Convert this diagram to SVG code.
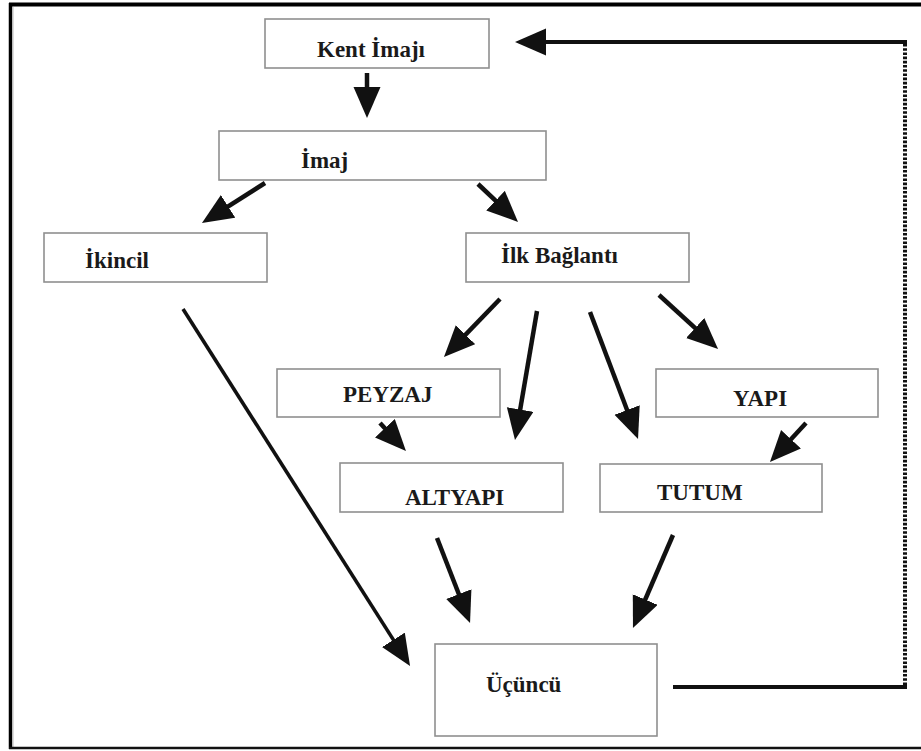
<svg xmlns="http://www.w3.org/2000/svg" width="921" height="751" viewBox="0 0 921 751">
<style>
.box{fill:#fff;stroke:#8f8f8f;stroke-width:1.6}
.lbl{font-family:"Liberation Serif","Times New Roman",serif;font-weight:bold;font-size:23px;fill:#1a1a1a}
.arr{stroke:#111;stroke-width:4.5;fill:none;marker-end:url(#ah)}
.thin{stroke-width:3.6}
.fb{stroke:#111;stroke-width:4;fill:none}
.dot{stroke:#111;stroke-width:4;fill:none;stroke-dasharray:2.6 1.6}
</style>
<defs>
<marker id="ah" markerUnits="userSpaceOnUse" markerWidth="32" markerHeight="28" refX="19" refY="13.5" orient="auto">
<path d="M0,0 L31,13.5 L0,27 z" fill="#111"/>
</marker>
</defs>
<rect width="921" height="751" fill="#fff"/>
<g id="frame">
<line x1="9" y1="4.5" x2="921" y2="4.5" stroke="#000" stroke-width="4"/>
<line x1="10.5" y1="3" x2="10.5" y2="749" stroke="#000" stroke-width="3.5"/>
<line x1="13" y1="7" x2="13" y2="749" stroke="#bbb" stroke-width="1"/>
<line x1="9" y1="748" x2="921" y2="748" stroke="#111" stroke-width="2.5"/>
</g>
<g id="connectors">
<line class="arr" x1="367" y1="73" x2="367" y2="106"/>
<line class="arr" x1="265" y1="183" x2="212.1" y2="216.6"/>
<line class="arr" x1="478" y1="184" x2="509.3" y2="213.7"/>
<line class="arr" x1="500" y1="299" x2="452.3" y2="348.4"/>
<line class="arr" x1="537" y1="311" x2="517" y2="428.2"/>
<line class="arr" x1="590" y1="312" x2="633.8" y2="427.8"/>
<line class="arr" x1="659" y1="295" x2="709.2" y2="340.9"/>
<line class="arr" x1="380" y1="423" x2="397.8" y2="442.2"/>
<line class="arr" x1="806" y1="423" x2="778.1" y2="453.2"/>
<line class="arr thin" x1="183" y1="309" x2="403.6" y2="655.9"/>
<line class="arr" x1="437" y1="538" x2="465.7" y2="611.8"/>
<line class="arr" x1="673" y1="535" x2="637.7" y2="617"/>
<line class="fb" x1="673" y1="687" x2="907" y2="687"/>
<line class="dot" x1="905" y1="685" x2="905" y2="44"/>
<line class="arr" style="stroke-width:4" x1="907" y1="42" x2="527" y2="42"/>
</g>
<g id="kent"><rect class="box" x="265" y="19" width="224" height="49"/><text class="lbl" x="317" y="57">Kent İmajı</text></g>
<g id="imaj"><rect class="box" x="219" y="131" width="327" height="49"/><text class="lbl" x="301" y="168">İmaj</text></g>
<g id="ikincil"><rect class="box" x="44" y="233" width="223" height="49"/><text class="lbl" x="85" y="268">İkincil</text></g>
<g id="ilk"><rect class="box" x="466" y="233" width="223" height="49"/><text class="lbl" x="501" y="263">İlk Bağlantı</text></g>
<g id="peyzaj"><rect class="box" x="277" y="369" width="223" height="48"/><text class="lbl" x="343" y="402">PEYZAJ</text></g>
<g id="yapi"><rect class="box" x="656" y="369" width="222" height="48"/><text class="lbl" x="733" y="406">YAPI</text></g>
<g id="altyapi"><rect class="box" x="340" y="463" width="223" height="49"/><text class="lbl" x="405" y="505">ALTYAPI</text></g>
<g id="tutum"><rect class="box" x="600" y="464" width="222" height="48"/><text class="lbl" x="657" y="500">TUTUM</text></g>
<g id="ucuncu"><rect class="box" x="435" y="644" width="222" height="92"/><text class="lbl" x="486" y="692">Üçüncü</text></g>
</svg>
